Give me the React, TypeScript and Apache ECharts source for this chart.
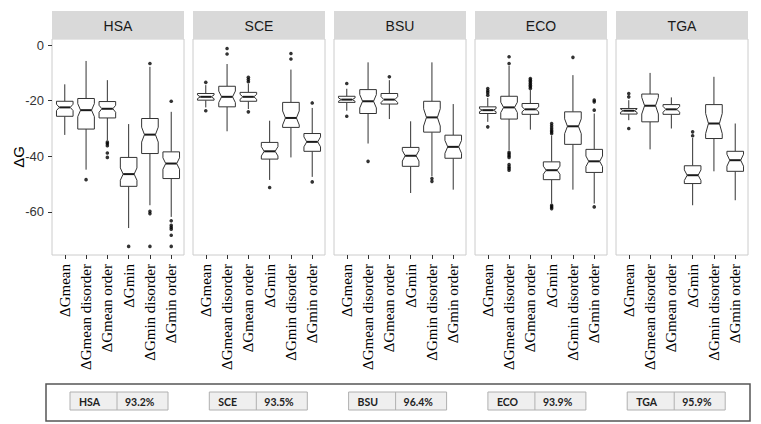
import React, { useEffect, useRef } from "react";
import * as echarts from "echarts";

const panels = ["HSA", "SCE", "BSU", "ECO", "TGA"];
const categories = ["ΔGmean", "ΔGmean disorder", "ΔGmean order", "ΔGmin", "ΔGmin disorder", "ΔGmin order"];
const yTicks = [0, -20, -40, -60];
const yTitle = "ΔG";

// rows: [lower whisker, Q1, median, Q3, upper whisker]
const hsaStats = [
  [-32.3, -25.6, -22.4, -20.2, -14.1],
  [-44.8, -30.2, -23.4, -19.2, -5.7],
  [-34.2, -26.2, -22.9, -20.3, -12.6],
  [-65.8, -50.8, -46.4, -40.4, -28.4],
  [-57.6, -39.0, -32.2, -26.4, -7.8],
  [-61.8, -48.0, -42.6, -38.4, -24.0],
];
const sceStats = [
  [-22.4, -19.8, -18.6, -17.4, -14.4],
  [-31.0, -22.2, -18.6, -14.8, -6.8],
  [-23.0, -20.2, -18.6, -17.0, -14.0],
  [-48.5, -41.0, -38.2, -35.0, -27.2],
  [-40.4, -29.6, -26.2, -20.6, -8.8],
  [-47.4, -38.2, -34.8, -31.8, -22.6],
];
const bsuStats = [
  [-23.6, -20.6, -19.6, -18.4, -15.7],
  [-35.4, -24.6, -20.2, -16.0, -6.2],
  [-26.6, -21.2, -19.6, -17.4, -12.6],
  [-53.2, -43.6, -39.8, -36.8, -27.4],
  [-47.2, -31.3, -26.0, -20.2, -6.2],
  [-52.0, -40.7, -36.6, -32.4, -21.2],
];
const ecoStats = [
  [-27.6, -24.6, -23.4, -22.2, -19.0],
  [-37.8, -26.6, -22.4, -18.4, -7.4],
  [-30.4, -24.9, -23.1, -21.0, -16.2],
  [-57.0, -48.4, -45.0, -42.0, -32.5],
  [-52.0, -35.7, -29.2, -24.0, -10.8],
  [-57.0, -45.8, -41.8, -37.5, -24.6],
];
const tgaStats = [
  [-27.0, -24.8, -23.6, -22.8, -19.8],
  [-37.5, -27.6, -21.8, -17.6, -10.0],
  [-30.0, -24.9, -23.1, -21.4, -18.8],
  [-57.6, -49.8, -46.8, -43.4, -33.4],
  [-45.4, -33.6, -28.2, -21.4, -11.4],
  [-55.8, -45.4, -41.4, -38.2, -28.2],
];

// outliers: [category number (1-6), value]
const hsaOutliers = [
  [2, -48.4],
  [3, -34.9], [3, -35.5], [3, -36.2], [3, -38.8], [3, -40.4],
  [4, -72.4],
  [5, -6.6], [5, -59.8], [5, -60.6], [5, -72.4],
  [6, -20.2], [6, -63.2], [6, -64.8], [6, -65.5], [6, -66.2], [6, -68.4], [6, -72.4],
];
const sceOutliers = [
  [1, -13.4], [1, -23.6],
  [2, -1.2], [2, -3.2],
  [3, -11.6], [3, -12.4], [3, -13.2], [3, -24.0],
  [4, -51.2],
  [5, -3.0], [5, -5.0],
  [6, -20.8], [6, -49.2],
];
const bsuOutliers = [
  [1, -13.8], [1, -25.6],
  [2, -41.8],
  [3, -11.4],
  [5, -48.0], [5, -49.0],
];
const ecoOutliers = [
  [1, -15.6], [1, -16.4], [1, -17.1], [1, -18.0], [1, -29.4],
  [2, -4.2], [2, -6.6], [2, -38.6], [2, -39.2], [2, -39.8], [2, -40.4], [2, -43.0], [2, -43.8], [2, -44.4], [2, -45.0],
  [3, -12.0], [3, -12.6], [3, -13.2], [3, -13.8], [3, -14.4], [3, -15.0], [3, -15.6],
  [4, -28.2], [4, -29.0], [4, -29.8], [4, -30.6], [4, -31.2], [4, -31.8], [4, -57.6], [4, -58.2], [4, -58.8],
  [5, -4.4],
  [6, -19.8], [6, -20.4], [6, -23.4], [6, -58.2],
];
const tgaOutliers = [
  [1, -17.4], [1, -18.6], [1, -30.0],
  [4, -31.2], [4, -32.6],
];

const panelStats = [hsaStats, sceStats, bsuStats, ecoStats, tgaStats];
const panelOutliers = [hsaOutliers, sceOutliers, bsuOutliers, ecoOutliers, tgaOutliers];
const sampleSizes = [55, 32, 32, 48, 28];
const accuracy = [93.2, 93.5, 96.4, 93.9, 95.9];

// layout
const PANEL_LEFT0 = 52;
const PANEL_STEP = 141;
const PANEL_W = 132;
const PANEL_TOP = 39;
const PANEL_H = 216;
const STRIP_TOP = 11;
const STRIP_H = 28;
const Y_MIN = -75.5;
const Y_MAX = 2.2;

function renderBox(params: any, api: any) {
  const x = api.value(0);
  const lo = api.value(1), q1 = api.value(2), med = api.value(3), q3 = api.value(4), hi = api.value(5);
  const nlo = api.value(6), nhi = api.value(7);
  const c = (v: number) => api.coord([x, v]);
  const cx = c(med)[0];
  const unit = api.size([1, 0])[0];
  const hw = unit * 0.39;
  const inset = hw * 0.34;
  const yq1 = c(q1)[1], yq3 = c(q3)[1], ym = c(med)[1];
  const ynl = c(nlo)[1], ynh = c(nhi)[1], ylo = c(lo)[1], yhi = c(hi)[1];
  const xl = cx - hw, xr = cx + hw;
  const lineStyle = { stroke: "#333333", lineWidth: 1 };
  return {
    type: "group",
    children: [
      { type: "line", shape: { x1: cx, y1: yq3, x2: cx, y2: yhi }, style: lineStyle },
      { type: "line", shape: { x1: cx, y1: yq1, x2: cx, y2: ylo }, style: lineStyle },
      {
        type: "polygon",
        shape: {
          points: [
            [xl, yq3], [xr, yq3], [xr, ynh], [xr - inset, ym], [xr, ynl], [xr, yq1],
            [xl, yq1], [xl, ynl], [xl + inset, ym], [xl, ynh],
          ],
        },
        style: { fill: "#ffffff", stroke: "#333333", lineWidth: 1 },
      },
      { type: "line", shape: { x1: xl + inset, y1: ym, x2: xr - inset, y2: ym }, style: { stroke: "#1a1a1a", lineWidth: 2 } },
    ],
  };
}

export default function App() {
  const ref = useRef<HTMLDivElement>(null);
  useEffect(() => {
    if (!ref.current) return;
    const chart = echarts.init(ref.current, undefined, { renderer: "svg" });
    const catPositions = categories.map((_, i) => i + 1);

    const grids: any[] = [];
    const xAxes: any[] = [];
    const yAxes: any[] = [];
    const series: any[] = [];
    const graphics: any[] = [];

    panels.forEach((name, i) => {
      const left = PANEL_LEFT0 + i * PANEL_STEP;
      grids.push({
        left, top: PANEL_TOP, width: PANEL_W, height: PANEL_H,
        show: true, borderColor: "#cccccc", borderWidth: 1, backgroundColor: "#ffffff",
      });
      xAxes.push({
        gridIndex: i, type: "value", min: 0.4, max: 6.6, position: "bottom",
        axisLine: { show: false, onZero: false }, splitLine: { show: false },
        axisTick: { show: true, customValues: catPositions, length: 4, lineStyle: { color: "#333333" } },
        axisLabel: {
          customValues: catPositions, rotate: 90, margin: 9,
          formatter: (v: number) => categories[Math.round(v) - 1] ?? "",
          fontFamily: "Liberation Serif", fontSize: 15, color: "#000000",
          padding: [0, 0, 6, 0],
        },
      });
      yAxes.push({
        gridIndex: i, type: "value", min: Y_MIN, max: Y_MAX,
        axisLine: { show: false, onZero: false }, splitLine: { show: false },
        axisTick: { show: i === 0, customValues: yTicks, length: 4, lineStyle: { color: "#333333" } },
        axisLabel: {
          show: i === 0, customValues: yTicks, margin: 8,
          fontFamily: "Liberation Sans", fontSize: 13, color: "#333333",
        },
      });
      const n = sampleSizes[i];
      const boxData = panelStats[i].map((s, k) => {
        const [lo, q1, med, q3, hi] = s;
        const notch = (1.58 * (q3 - q1)) / Math.sqrt(n);
        return [k + 1, lo, q1, med, q3, hi, med - notch, med + notch];
      });
      series.push({
        type: "custom", xAxisIndex: i, yAxisIndex: i,
        renderItem: renderBox, data: boxData,
        encode: { x: 0, y: [1, 2, 3, 4, 5] },
      });
      series.push({
        type: "scatter", xAxisIndex: i, yAxisIndex: i,
        data: panelOutliers[i], symbol: "circle", symbolSize: 3.6,
        itemStyle: { color: "#000000" },
      });
      graphics.push({
        type: "rect", shape: { x: left, y: STRIP_TOP, width: PANEL_W, height: STRIP_H },
        style: { fill: "#d9d9d9" },
      });
      graphics.push({
        type: "text", x: left + PANEL_W / 2, y: STRIP_TOP + STRIP_H / 2 + 1,
        style: {
          text: name, fontFamily: "Liberation Sans", fontSize: 14, fill: "#1a1a1a",
          align: "center", verticalAlign: "middle",
        },
      });
    });

    // y axis title
    graphics.push({
      type: "text", x: 18, y: PANEL_TOP + PANEL_H / 2 + 10, rotation: Math.PI / 2,
      style: {
        text: yTitle, fontFamily: "Liberation Sans", fontSize: 15, fill: "#000000",
        align: "center", verticalAlign: "middle",
      },
    });

    // bottom table
    graphics.push({
      type: "rect", shape: { x: 46, y: 384, width: 704, height: 37 },
      style: { fill: "none", stroke: "#555555", lineWidth: 1.5 },
    });
    panels.forEach((name, i) => {
      const x0 = 70 + i * 139.3;
      graphics.push({
        type: "rect", shape: { x: x0, y: 392, width: 98, height: 18 },
        style: { fill: "#efefef", stroke: "#b0b0b0", lineWidth: 1 },
      });
      graphics.push({
        type: "line", shape: { x1: x0 + 47, y1: 392, x2: x0 + 47, y2: 410 },
        style: { stroke: "#b0b0b0", lineWidth: 1 },
      });
      graphics.push({
        type: "text", x: x0 + 9, y: 401.5,
        style: { text: name, fontFamily: "Lato", fontWeight: "bold", fontSize: 10.5, fill: "#222222", verticalAlign: "middle" },
      });
      graphics.push({
        type: "text", x: x0 + 55, y: 401.5,
        style: { text: accuracy[i].toFixed(1) + "%", fontFamily: "Lato", fontWeight: "bold", fontSize: 10.5, fill: "#222222", verticalAlign: "middle" },
      });
    });

    chart.setOption({
      animation: false,
      backgroundColor: "#ffffff",
      grid: grids,
      xAxis: xAxes,
      yAxis: yAxes,
      series,
      graphic: graphics,
    });
    return () => chart.dispose();
  }, []);
  return <div ref={ref} style={{ position: "fixed", left: 0, top: 0, width: 761, height: 424 }} />;
}
